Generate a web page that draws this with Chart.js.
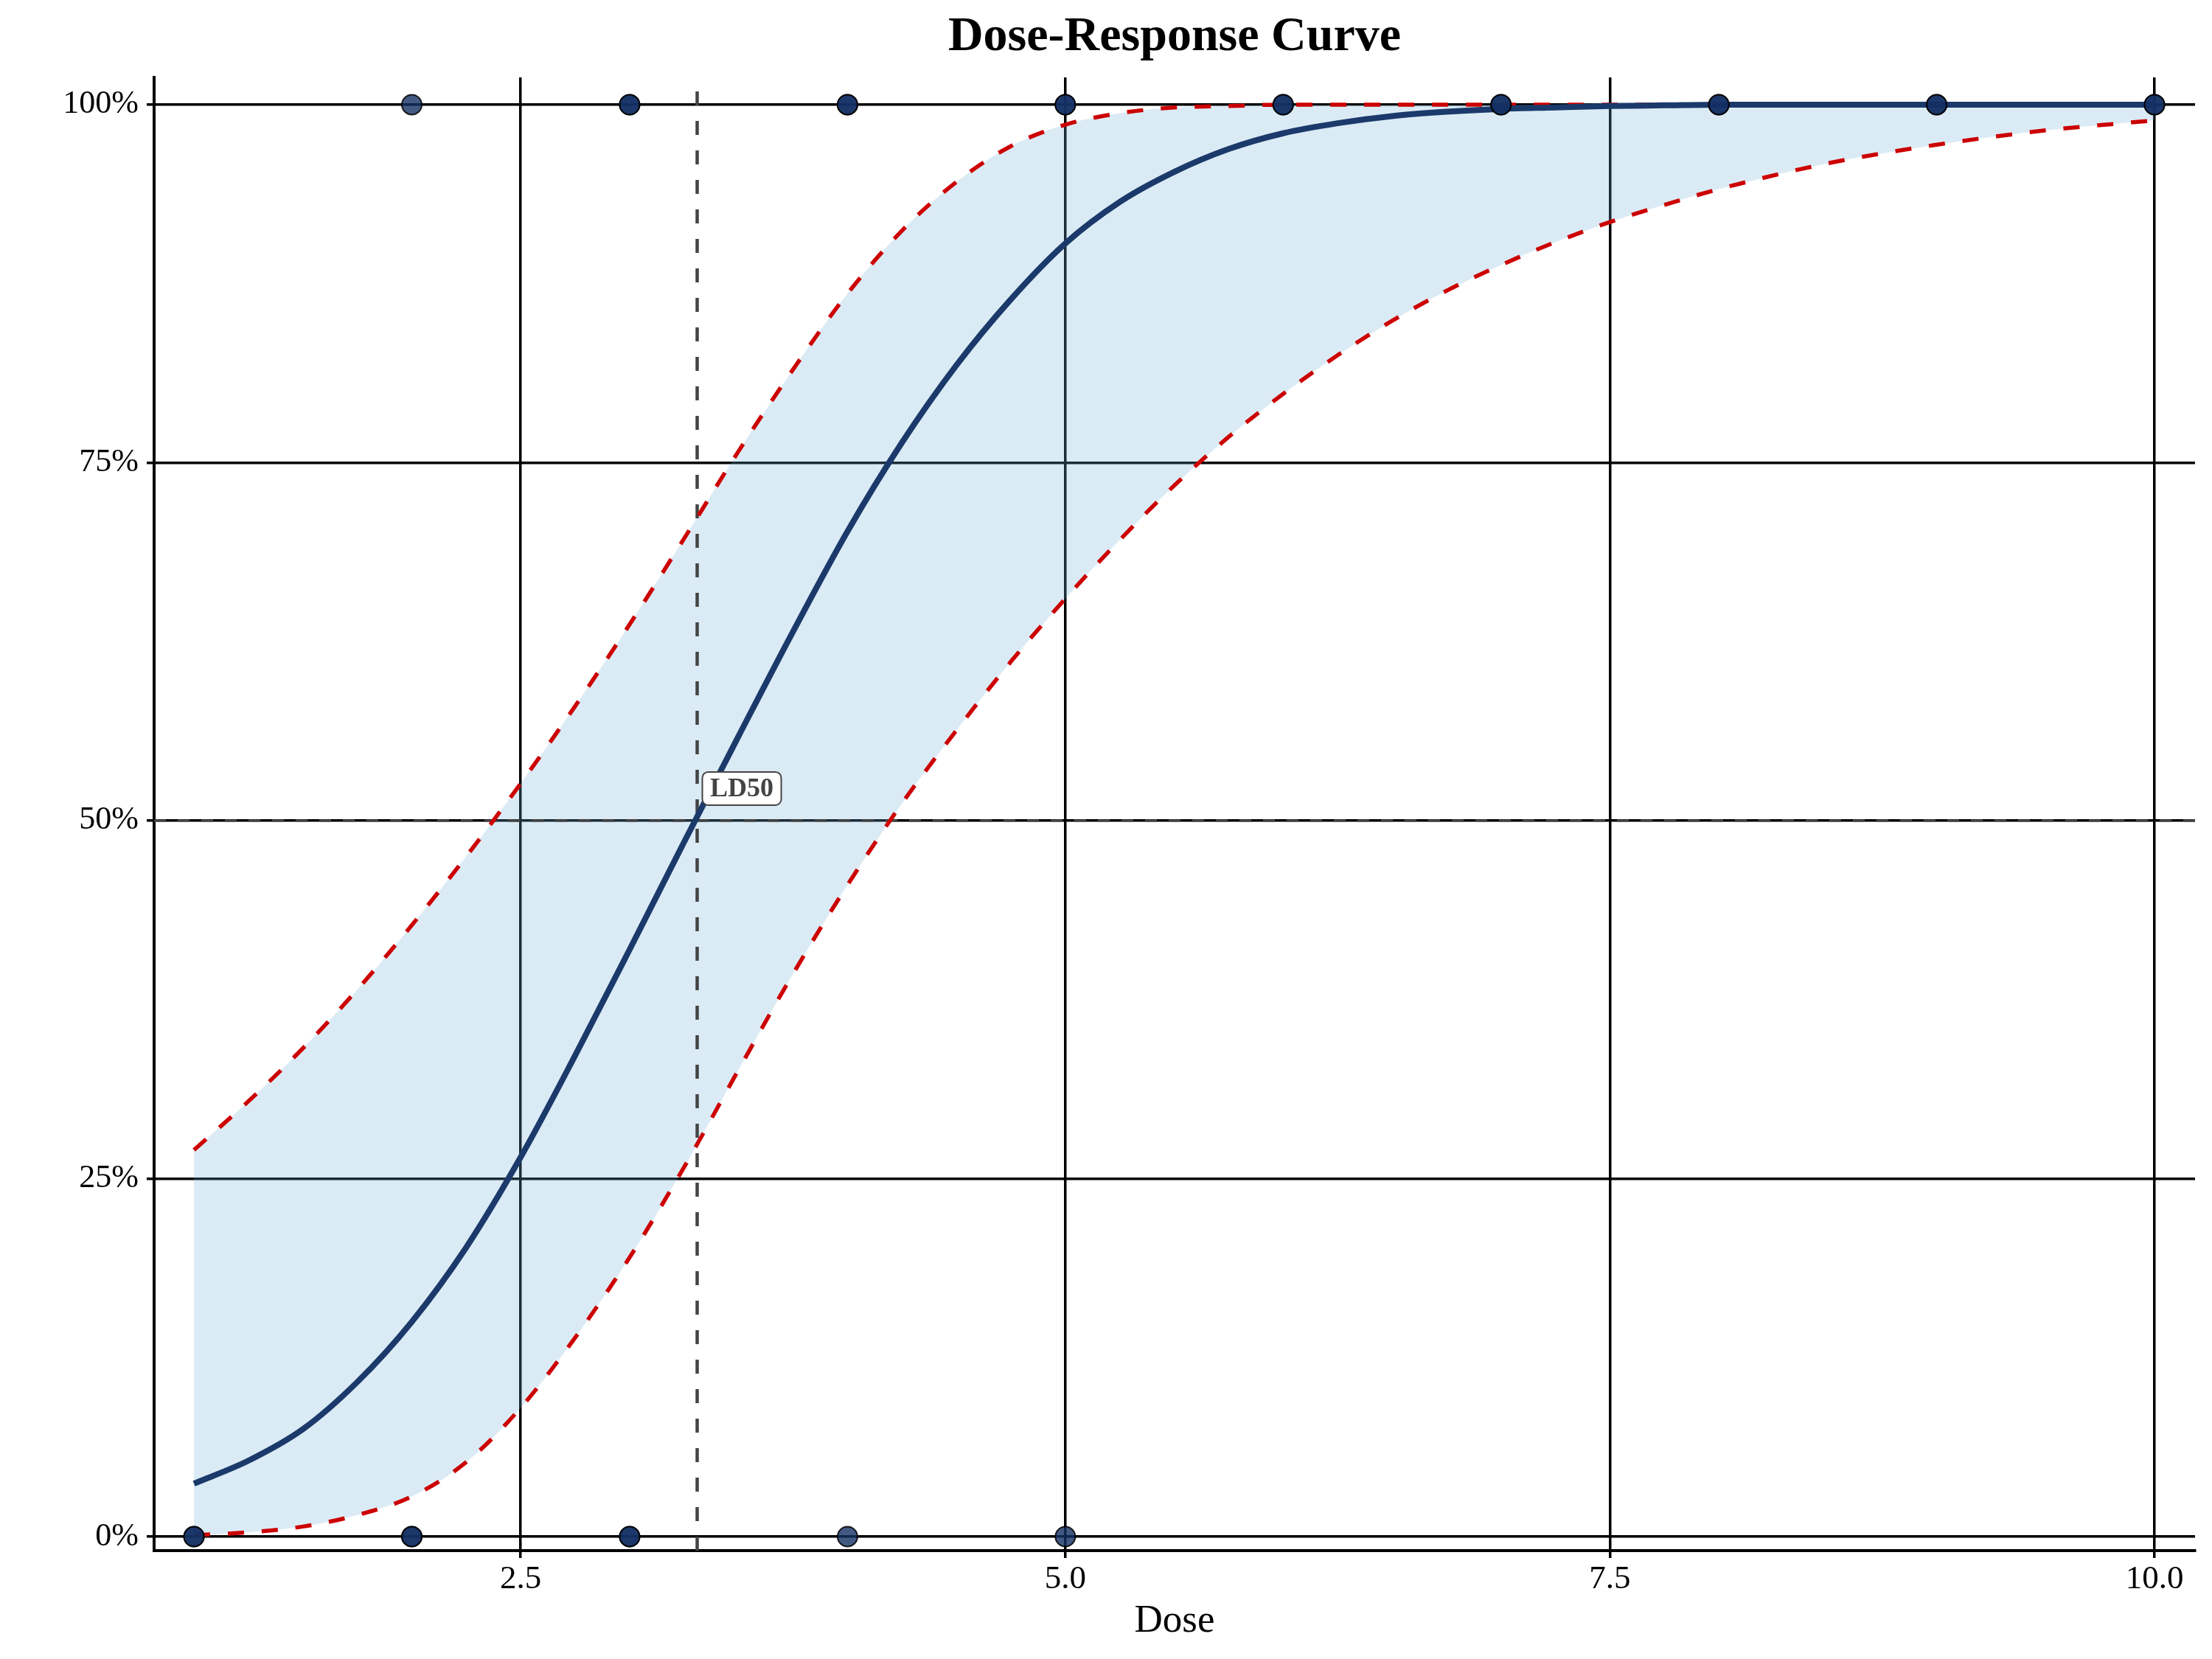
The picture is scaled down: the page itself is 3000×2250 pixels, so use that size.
<!DOCTYPE html>
<html>
<head>
<meta charset="utf-8">
<script src="https://cdn.jsdelivr.net/npm/chart.js@4.4.1/dist/chart.umd.min.js"></script>
<style>
  html, body { margin: 0; padding: 0; background: #fff; }
  #wrap { width: 3000px; height: 2250px; }
</style>
</head>
<body>
<div id="wrap"><canvas id="doseChart" width="3000" height="2250"></canvas></div>
<script>
// fitted probability and 95% band
var doseGrid = [1, 1.25, 1.5, 1.75, 2, 2.25, 2.5, 2.75, 3, 3.25, 3.5, 3.75, 4, 4.25, 4.5, 4.75, 5,
                5.25, 5.5, 5.75, 6, 6.25, 6.5, 6.75, 7, 7.25, 7.5, 7.75, 8, 8.5, 9, 9.5, 10];
var fitted = [0.037, 0.053, 0.075, 0.108, 0.150, 0.202, 0.265, 0.336, 0.410, 0.485, 0.559, 0.632, 0.702, 0.764, 0.818, 0.864, 0.903,
              0.932, 0.953, 0.969, 0.980, 0.987, 0.992, 0.995, 0.997, 0.998, 0.999, 0.9995, 1, 1, 1, 1, 1];
var upperCI = [0.270, 0.304, 0.341, 0.382, 0.427, 0.475, 0.526, 0.580, 0.637, 0.697, 0.758, 0.815, 0.868, 0.912, 0.946, 0.971, 0.986,
               0.994, 0.998, 0.999, 1, 1, 1, 1, 1, 1, 1, 1, 1, 1, 1, 1, 1];
var lowerCI = [0.001, 0.003, 0.007, 0.015, 0.028, 0.052, 0.090, 0.139, 0.195, 0.258, 0.326, 0.393, 0.455, 0.512, 0.563, 0.611, 0.655,
               0.696, 0.734, 0.768, 0.798, 0.825, 0.849, 0.870, 0.888, 0.904, 0.918, 0.930, 0.941, 0.959, 0.972, 0.982, 0.989];

// observed outcomes (repeats sit on top of each other)
var obsDose = [1, 1, 2, 2, 3, 3, 4, 5, 2, 3, 3, 4, 4, 5, 5, 6, 6, 7, 7, 8, 8, 9, 9, 10, 10];
var obsResp = [0, 0, 0, 0, 0, 0, 0, 0, 1, 1, 1, 1, 1, 1, 1, 1, 1, 1, 1, 1, 1, 1, 1, 1, 1];

var ld50 = 3.31;
var xTicks = [2.5, 5, 7.5, 10];
var yTicks = [0, 0.25, 0.5, 0.75, 1];
var xMin = 0.817, xMax = 10.186;
var yMin = -0.0098, yMax = 1.019;

var serif = '"Liberation Serif", "Times New Roman", serif';

function toPoints(xs, ys) {
    return xs.map(function(x, i) { return {x: x, y: ys[i]}; });
}

var titlePlugin = {
    id: 'plotTitle',
    afterDraw: function(chart) {
        var ctx = chart.ctx, a = chart.chartArea;
        ctx.save();
        ctx.font = 'bold 66px ' + serif;
        ctx.fillStyle = '#000';
        ctx.textAlign = 'center';
        ctx.textBaseline = 'alphabetic';
        ctx.fillText('Dose-Response Curve', (a.left + a.right) / 2, 68);
        ctx.restore();
    }
};

var ldLabelPlugin = {
    id: 'ldLabel',
    afterDatasetsDraw: function(chart) {
        var ctx = chart.ctx;
        var px = chart.scales.x.getPixelForValue(ld50);
        var py = chart.scales.y.getPixelForValue(0.5);
        ctx.save();
        ctx.font = 'bold 36px ' + serif;
        var w = ctx.measureText('LD50').width + 21;
        var h = 45;
        var bx = px + 7, by = py - 21 - h;
        ctx.beginPath();
        ctx.roundRect(bx, by, w, h, 8);
        ctx.fillStyle = '#fff';
        ctx.fill();
        ctx.lineWidth = 2;
        ctx.strokeStyle = '#444';
        ctx.stroke();
        ctx.fillStyle = '#444';
        ctx.textAlign = 'center';
        ctx.textBaseline = 'middle';
        ctx.fillText('LD50', bx + w / 2, by + h / 2 + 1);
        ctx.restore();
    }
};

var config = {
    type: 'line',
    data: {
        datasets: [{
            label: 'upper',
            data: toPoints(doseGrid, upperCI),
            borderColor: '#cc0000',
            borderWidth: 5.5,
            borderDash: [22, 24],
            pointRadius: 0,
            fill: false,
            cubicInterpolationMode: 'monotone',
            order: 2
        }, {
            label: 'lower',
            data: toPoints(doseGrid, lowerCI),
            borderColor: '#cc0000',
            borderWidth: 5.5,
            borderDash: [22, 24],
            pointRadius: 0,
            fill: '-1',
            backgroundColor: 'rgba(111,175,215,0.25)',
            cubicInterpolationMode: 'monotone',
            order: 2
        }, {
            label: 'fit',
            data: toPoints(doseGrid, fitted),
            borderColor: '#1b3a6b',
            borderWidth: 8,
            pointRadius: 0,
            fill: false,
            cubicInterpolationMode: 'monotone',
            order: 1
        }, {
            label: 'observed',
            data: toPoints(obsDose, obsResp),
            showLine: false,
            pointRadius: 13.5,
            pointBorderWidth: 2,
            pointBackgroundColor: 'rgba(19,47,99,0.8)',
            pointBorderColor: 'rgba(0,0,0,0.85)',
            order: 0
        }, {
            label: 'ld50 line',
            data: [{x: ld50, y: yMin}, {x: ld50, y: yMax}],
            borderColor: '#444',
            borderWidth: 4.5,
            borderDash: [19, 21],
            pointRadius: 0,
            fill: false,
            order: 3
        }, {
            label: 'half line',
            data: [{x: xMin, y: 0.5}, {x: xMax, y: 0.5}],
            borderColor: '#444',
            borderWidth: 3.3,
            borderDash: [16, 16],
            pointRadius: 0,
            fill: false,
            order: 3
        }]
    },
    options: {
        responsive: false,
        devicePixelRatio: 1,
        animation: false,
        layout: { padding: { top: 105, right: 23, left: 0, bottom: 0 } },
        plugins: {
            legend: { display: false },
            tooltip: { enabled: false },
            filler: { drawTime: 'beforeDatasetsDraw' }
        },
        scales: {
            x: {
                type: 'linear',
                min: xMin,
                max: xMax,
                afterBuildTicks: function(s) { s.ticks = xTicks.map(function(v) { return {value: v}; }); },
                afterFit: function(s) { s.height = 147; },
                grid: { color: '#000', lineWidth: 3.5, tickLength: 10 },
                border: { color: '#000', width: 4 },
                ticks: {
                    color: '#000',
                    font: { family: serif, size: 45 },
                    padding: 2,
                    maxRotation: 0,
                    callback: function(v) { return v.toFixed(1); }
                },
                title: {
                    display: true,
                    text: 'Dose',
                    color: '#000',
                    font: { family: serif, size: 53 },
                    padding: { top: 0, bottom: 19 }
                }
            },
            y: {
                type: 'linear',
                min: yMin,
                max: yMax,
                afterBuildTicks: function(s) { s.ticks = yTicks.map(function(v) { return {value: v}; }); },
                afterFit: function(s) { s.width = 209; },
                grid: { color: '#000', lineWidth: 3.5, tickLength: 10 },
                border: { color: '#000', width: 4 },
                ticks: {
                    color: '#000',
                    font: { family: serif, size: 44 },
                    padding: 11,
                    callback: function(v) { return Math.round(v * 100) + '%'; }
                }
            }
        }
    },
    plugins: [titlePlugin, ldLabelPlugin]
};

var ctx = document.getElementById('doseChart');
window.doseChart = new Chart(ctx, config);
</script>
</body>
</html>
